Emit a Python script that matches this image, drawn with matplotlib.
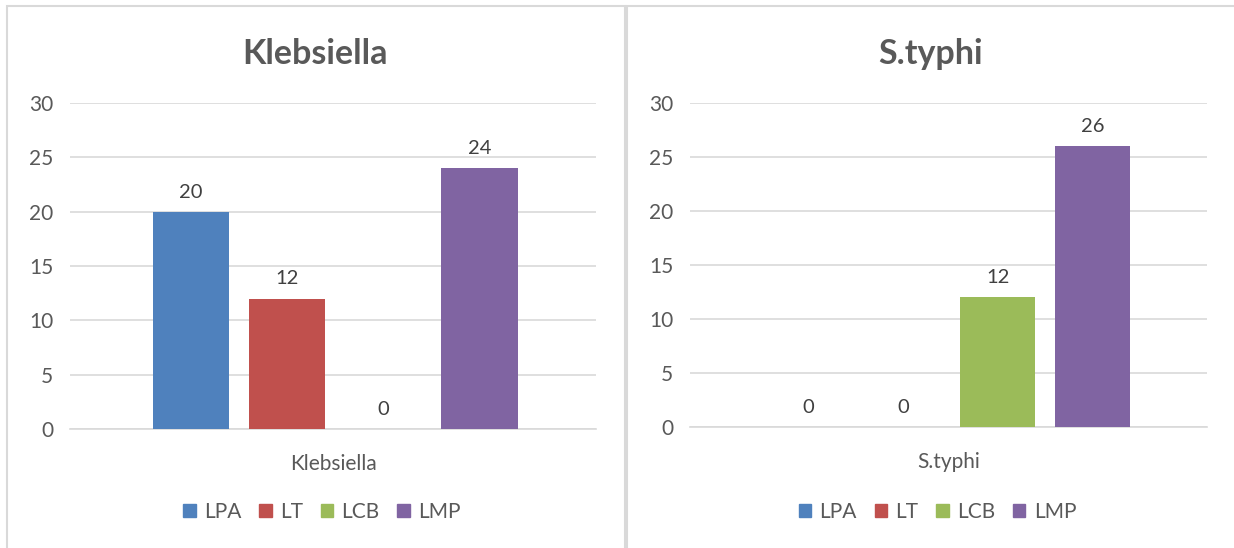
import matplotlib
matplotlib.use('Agg')
import matplotlib.pyplot as plt
from matplotlib.patches import Rectangle, Patch

plt.rcParams['font.family'] = ['Lato', 'DejaVu Sans']

series = ['LPA', 'LT', 'LCB', 'LMP']
colors = ['#4F81BD', '#C0504D', '#9BBB59', '#8064A2']
organisms = ['Klebsiella', 'S.typhi']
klebsiella = [20, 12, 0, 24]
s_typhi = [0, 0, 12, 26]

W, H = 1234, 548
fig = plt.figure(figsize=(W / 100, H / 100), dpi=100)

text_grey = '#595959'
grid_grey = '#d9d9d9'

# chart frames
fig.patches.append(Rectangle((7 / W, -0.1), 618 / W, 1.1 - 6 / H, transform=fig.transFigure,
                             fill=False, edgecolor=grid_grey, linewidth=1.5))
fig.patches.append(Rectangle((627 / W, -0.1), 0.5, 1.1 - 6 / H, transform=fig.transFigure,
                             fill=False, edgecolor=grid_grey, linewidth=1.5))


def draw_panel(left_px, right_px, top_px, bottom_px, title, values):
    ax = fig.add_axes([left_px / W, 1 - bottom_px / H,
                       (right_px - left_px) / W, (bottom_px - top_px) / H])
    step = 0.183
    width = 0.145
    offsets = [(i - 1.5) * step + 0.004 for i in range(len(series))]
    for off, v, c, name in zip(offsets, values, colors, series):
        bars = ax.bar(off, v, width=width, color=c, label=name, zorder=3)
        ax.bar_label(bars, labels=[str(v)], padding=8, fontsize=14.5, color='#404040')
    ax.set_xlim(-0.5, 0.5)
    ax.set_ylim(0, 30)
    ax.set_yticks(range(0, 31, 5))
    ax.yaxis.grid(True, color=grid_grey, linewidth=1.2, zorder=0)
    for s in ['top', 'right', 'left']:
        ax.spines[s].set_visible(False)
    ax.spines['bottom'].set_color(grid_grey)
    ax.spines['bottom'].set_linewidth(1.2)
    ax.tick_params(axis='y', length=0, pad=12, labelsize=15, labelcolor=text_grey)
    ax.set_xticks([0])
    ax.set_xticklabels([title])
    ax.tick_params(axis='x', length=0, pad=18, labelsize=15, labelcolor=text_grey)
    ax.set_title(title, fontsize=24.5, fontweight='bold', color=text_grey, pad=28, x=0.465)
    handles = [Patch(color=c) for c in colors]
    cx = ((left_px + right_px) / 2 - 11) / W
    fig.legend(handles, series, loc='center', bbox_to_anchor=(cx, 1 - 512 / H), ncol=4,
               frameon=False, fontsize=15, labelcolor=text_grey, handlelength=0.6,
               handleheight=0.6, handletextpad=0.4, columnspacing=0.85)
    return ax


draw_panel(70, 596, 103, 429, organisms[0], klebsiella)
draw_panel(690, 1207, 103, 427, organisms[1], s_typhi)

fig.savefig('out.png', dpi=100)
